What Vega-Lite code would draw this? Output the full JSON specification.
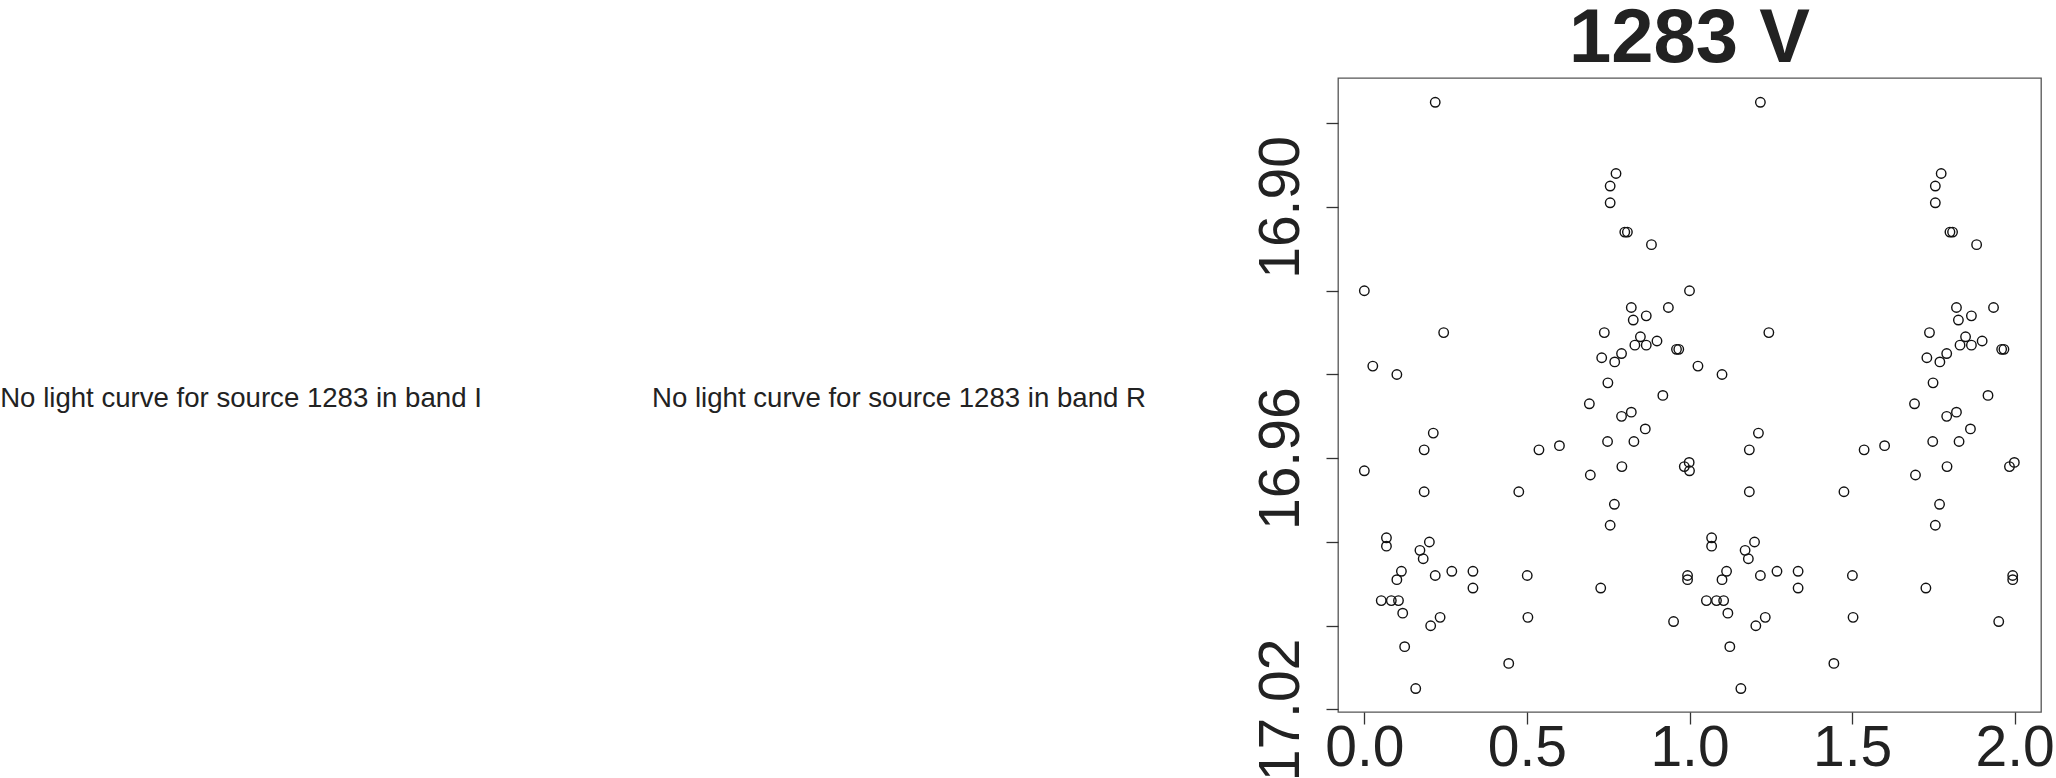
{
  "$schema": "https://vega.github.io/schema/vega-lite/v6.json",
  "padding": 0,
  "background": "white",
  "config": {"view": {"stroke": null}, "font": "Liberation Sans"},
  "datasets": {
    "noI": [{"label": "No light curve for source 1283 in band I"}],
    "noR": [{"label": "No light curve for source 1283 in band R"}],
    "lc": [
      {"phase":0.218,"mag":16.875},{"phase":0.774,"mag":16.892},{"phase":0.756,"mag":16.895},{"phase":0.756,"mag":16.899},
      {"phase":0.801,"mag":16.906},{"phase":0.809,"mag":16.906},{"phase":0.883,"mag":16.909},{"phase":0.000,"mag":16.920},
      {"phase":0.244,"mag":16.930},{"phase":0.026,"mag":16.938},{"phase":0.100,"mag":16.940},{"phase":0.821,"mag":16.924},
      {"phase":0.935,"mag":16.924},{"phase":0.827,"mag":16.927},{"phase":0.867,"mag":16.926},{"phase":0.738,"mag":16.930},
      {"phase":0.849,"mag":16.931},{"phase":0.832,"mag":16.933},{"phase":0.867,"mag":16.933},{"phase":0.900,"mag":16.932},
      {"phase":0.960,"mag":16.934},{"phase":0.967,"mag":16.934},{"phase":0.791,"mag":16.935},{"phase":0.730,"mag":16.936},
      {"phase":0.770,"mag":16.937},{"phase":0.749,"mag":16.942},{"phase":0.918,"mag":16.945},{"phase":0.692,"mag":16.947},
      {"phase":0.791,"mag":16.950},{"phase":0.821,"mag":16.949},{"phase":0.864,"mag":16.953},{"phase":0.748,"mag":16.956},
      {"phase":0.829,"mag":16.956},{"phase":0.212,"mag":16.954},{"phase":0.184,"mag":16.958},{"phase":0.537,"mag":16.958},
      {"phase":0.600,"mag":16.957},{"phase":0.000,"mag":16.963},{"phase":0.792,"mag":16.962},{"phase":0.695,"mag":16.964},
      {"phase":0.984,"mag":16.962},{"phase":0.999,"mag":16.961},{"phase":0.184,"mag":16.968},{"phase":0.475,"mag":16.968},
      {"phase":0.769,"mag":16.971},{"phase":0.756,"mag":16.976},{"phase":0.068,"mag":16.979},{"phase":0.068,"mag":16.981},
      {"phase":0.200,"mag":16.980},{"phase":0.171,"mag":16.982},{"phase":0.181,"mag":16.984},{"phase":0.114,"mag":16.987},
      {"phase":0.100,"mag":16.989},{"phase":0.218,"mag":16.988},{"phase":0.269,"mag":16.987},{"phase":0.334,"mag":16.987},
      {"phase":0.334,"mag":16.991},{"phase":0.501,"mag":16.988},{"phase":0.503,"mag":16.998},{"phase":0.727,"mag":16.991},
      {"phase":0.052,"mag":16.994},{"phase":0.083,"mag":16.994},{"phase":0.105,"mag":16.994},{"phase":0.118,"mag":16.997},
      {"phase":0.204,"mag":17.000},{"phase":0.233,"mag":16.998},{"phase":0.124,"mag":17.005},{"phase":0.444,"mag":17.009},
      {"phase":0.158,"mag":17.015},{"phase":0.951,"mag":16.999},{"phase":0.994,"mag":16.988},{"phase":0.994,"mag":16.989},
      {"phase":1.218,"mag":16.875},{"phase":1.774,"mag":16.892},{"phase":1.756,"mag":16.895},{"phase":1.756,"mag":16.899},
      {"phase":1.801,"mag":16.906},{"phase":1.809,"mag":16.906},{"phase":1.883,"mag":16.909},{"phase":1.000,"mag":16.920},
      {"phase":1.244,"mag":16.930},{"phase":1.026,"mag":16.938},{"phase":1.100,"mag":16.940},{"phase":1.821,"mag":16.924},
      {"phase":1.935,"mag":16.924},{"phase":1.827,"mag":16.927},{"phase":1.867,"mag":16.926},{"phase":1.738,"mag":16.930},
      {"phase":1.849,"mag":16.931},{"phase":1.832,"mag":16.933},{"phase":1.867,"mag":16.933},{"phase":1.900,"mag":16.932},
      {"phase":1.960,"mag":16.934},{"phase":1.967,"mag":16.934},{"phase":1.791,"mag":16.935},{"phase":1.730,"mag":16.936},
      {"phase":1.770,"mag":16.937},{"phase":1.749,"mag":16.942},{"phase":1.918,"mag":16.945},{"phase":1.692,"mag":16.947},
      {"phase":1.791,"mag":16.950},{"phase":1.821,"mag":16.949},{"phase":1.864,"mag":16.953},{"phase":1.748,"mag":16.956},
      {"phase":1.829,"mag":16.956},{"phase":1.212,"mag":16.954},{"phase":1.184,"mag":16.958},{"phase":1.537,"mag":16.958},
      {"phase":1.600,"mag":16.957},{"phase":1.000,"mag":16.963},{"phase":1.792,"mag":16.962},{"phase":1.695,"mag":16.964},
      {"phase":1.984,"mag":16.962},{"phase":1.999,"mag":16.961},{"phase":1.184,"mag":16.968},{"phase":1.475,"mag":16.968},
      {"phase":1.769,"mag":16.971},{"phase":1.756,"mag":16.976},{"phase":1.068,"mag":16.979},{"phase":1.068,"mag":16.981},
      {"phase":1.200,"mag":16.980},{"phase":1.171,"mag":16.982},{"phase":1.181,"mag":16.984},{"phase":1.114,"mag":16.987},
      {"phase":1.100,"mag":16.989},{"phase":1.218,"mag":16.988},{"phase":1.269,"mag":16.987},{"phase":1.334,"mag":16.987},
      {"phase":1.334,"mag":16.991},{"phase":1.501,"mag":16.988},{"phase":1.503,"mag":16.998},{"phase":1.727,"mag":16.991},
      {"phase":1.052,"mag":16.994},{"phase":1.083,"mag":16.994},{"phase":1.105,"mag":16.994},{"phase":1.118,"mag":16.997},
      {"phase":1.204,"mag":17.000},{"phase":1.233,"mag":16.998},{"phase":1.124,"mag":17.005},{"phase":1.444,"mag":17.009},
      {"phase":1.158,"mag":17.015},{"phase":1.951,"mag":16.999},{"phase":1.994,"mag":16.988},{"phase":1.994,"mag":16.989}
    ]
  },
  "hconcat": [
    {
      "width": 480,
      "height": 642,
      "data": {"name": "noI"},
      "mark": {"type": "text", "fontSize": 27.6, "color": "#222", "align": "center", "baseline": "middle", "font": "Liberation Sans"},
      "encoding": {"text": {"field": "label"}}
    },
    {
      "hconcat": [
        {
          "width": 796,
          "height": 642,
          "data": {"name": "noR"},
          "mark": {"type": "text", "fontSize": 27.6, "color": "#222", "align": "center", "baseline": "middle", "font": "Liberation Sans"},
          "encoding": {"text": {"field": "label"}}
        },
        {
          "width": 703,
          "height": 634,
          "title": {"text": "1283 V", "fontSize": 76, "fontWeight": "bold", "color": "#222", "anchor": "middle", "frame": "group", "offset": 0, "font": "Liberation Sans"},
          "view": {"stroke": "#555", "strokeWidth": 1.3},
          "data": {"name": "lc"},
          "mark": {"type": "point", "shape": "circle", "filled": false, "stroke": "#111", "strokeWidth": 1.4, "size": 90, "opacity": 1},
          "encoding": {
            "x": {
              "field": "phase", "type": "quantitative",
              "scale": {"domain": [-0.081, 2.081], "nice": false, "zero": false},
              "axis": {"title": null, "values": [0, 0.5, 1, 1.5, 2], "format": ".1f", "grid": false, "domain": false,
                       "tickSize": 12, "tickColor": "#333", "tickWidth": 1.3,
                       "labelFontSize": 57, "labelColor": "#222", "labelFont": "Liberation Sans", "labelPadding": -4,
                       "labelFlush": false, "labelOverlap": false}
            },
            "y": {
              "field": "mag", "type": "quantitative",
              "scale": {"domain": [16.8692, 17.0206], "reverse": true, "nice": false, "zero": false},
              "axis": {"title": null, "values": [16.88, 16.90, 16.92, 16.94, 16.96, 16.98, 17.00, 17.02], "format": ".2f",
                       "labelExpr": "indexof(['16.90','16.96','17.02'], datum.label) >= 0 ? datum.label : ''",
                       "grid": false, "domain": false,
                       "tickSize": 12, "tickColor": "#333", "tickWidth": 1.3,
                       "labelFontSize": 57, "labelColor": "#222", "labelFont": "Liberation Sans", "labelAngle": -90,
                       "labelAlign": "center", "labelBaseline": "bottom", "labelPadding": 16,
                       "labelFlush": false, "labelOverlap": false}
            }
          }
        }
      ],
      "spacing": 41,
      "bounds": "flush"
    }
  ],
  "spacing": 20,
  "bounds": "flush"
}
